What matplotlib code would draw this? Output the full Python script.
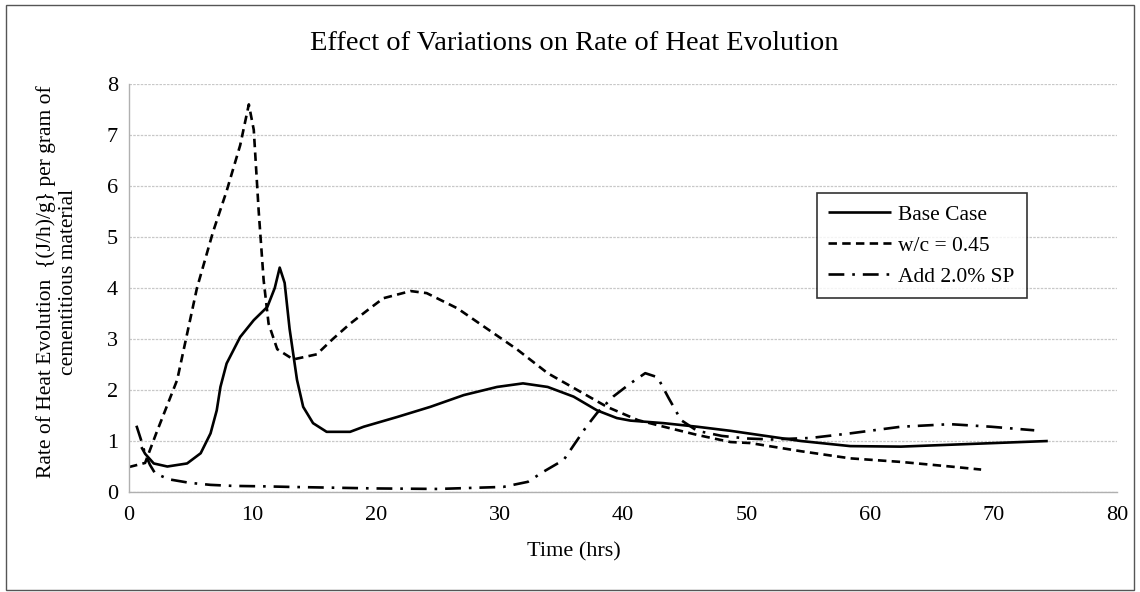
import matplotlib
matplotlib.use("Agg")
import matplotlib.pyplot as plt
from matplotlib.patches import Rectangle

plt.rcParams['font.family'] = ['Liberation Serif', 'DejaVu Serif']

# Base Case
base_x = [1.0, 1.3, 2.0, 3.1, 4.7, 5.8, 6.6, 7.1, 7.4, 7.9, 9.0, 10.1, 11.2, 11.8, 12.2, 12.6, 13.0, 13.6, 14.1, 14.9, 16.0, 17.9,
          19.0, 21.7, 24.4, 27.1, 29.8, 31.9, 33.9, 36.0, 37.9, 39.5, 40.6, 43.3, 46.0, 48.7, 54.4, 58.4, 62.5, 67.9, 74.4]
base_y = [0.88, 0.75, 0.56, 0.50, 0.56, 0.76, 1.15, 1.6, 2.06, 2.52, 3.04, 3.37, 3.63, 4.0, 4.4, 4.1, 3.2, 2.2, 1.67, 1.35, 1.18, 1.18,
          1.28, 1.47, 1.67, 1.9, 2.06, 2.13, 2.06, 1.87, 1.6, 1.45, 1.4, 1.35, 1.28, 1.2, 1.0, 0.9, 0.89, 0.94, 1.0]

# w/c = 0.45
wc_x = [0.0, 1.3, 2.2, 3.9, 5.5, 6.8, 7.9, 9.0, 9.7, 10.1, 10.5, 10.9, 11.3, 12.0, 13.3, 15.2, 16.5, 17.9, 19.5, 20.6, 22.8,
        24.1, 26.6, 29.0, 31.4, 33.9, 36.3, 38.7, 41.2, 43.3, 46.0, 48.7, 50.3, 54.4, 58.4, 62.5, 66.5, 69.0]
wc_y = [0.49, 0.57, 1.15, 2.2, 4.0, 5.1, 5.9, 6.8, 7.6, 7.1, 5.5, 4.15, 3.3, 2.8, 2.6, 2.7, 3.0, 3.3, 3.6, 3.8, 3.94,
        3.9, 3.6, 3.2, 2.8, 2.33, 2.0, 1.67, 1.41, 1.28, 1.12, 0.98, 0.96, 0.8, 0.66, 0.59, 0.5, 0.44]

# Add 2.0% SP
sp_x = [0.6, 1.0, 1.3, 1.7, 2.1, 3.2, 4.9, 6.6, 8.4, 11.2, 13.0, 20.0, 25.0, 30.3, 32.3, 33.5, 35.2, 37.0, 37.9, 39.2, 40.6,
        41.8, 42.8, 43.7, 44.7, 46.0, 48.0, 50.0, 52.0, 55.2, 58.4, 62.5, 66.5, 69.8, 73.3]
sp_y = [1.3, 1.0, 0.75, 0.53, 0.37, 0.25, 0.18, 0.14, 0.12, 0.11, 0.1, 0.07, 0.06, 0.1, 0.2, 0.39, 0.63, 1.27, 1.55, 1.87, 2.13,
        2.33, 2.25, 1.84, 1.41, 1.2, 1.1, 1.05, 1.03, 1.06, 1.15, 1.28, 1.33, 1.28, 1.21]

title = "Effect of Variations on Rate of Heat Evolution"
xlabel = "Time (hrs)"
ylabel = "Rate of Heat Evolution  {(J/h)/g} per gram of\ncementitious material"
labels = ["Base Case", "w/c = 0.45", "Add 2.0% SP"]

fig = plt.figure(figsize=(11.4, 5.92), dpi=100)
ax = fig.add_axes([0.1132, 0.1689, 0.8666, 0.6892])

lw = 1.9
ax.plot(base_x, base_y, color='black', lw=lw, solid_capstyle='butt', label=labels[0])
ax.plot(wc_x, wc_y, color='black', lw=lw, linestyle=(0, (3.2, 2.0)), label=labels[1])
ax.plot(sp_x, sp_y, color='black', lw=lw, linestyle=(0, (6, 3, 1, 3)), label=labels[2])

ax.set_xlim(0, 80)
ax.set_ylim(0, 8)
ax.set_xticks(range(0, 81, 10))
ax.set_yticks(range(0, 9))
ax.grid(axis='y', color='#c8c8c8', lw=0.9, linestyle=(0, (2, 1)))
ax.set_axisbelow(True)
for s in ['top', 'right']:
    ax.spines[s].set_visible(False)
for s in ['left', 'bottom']:
    ax.spines[s].set_color('#b0b0b0')
    ax.spines[s].set_linewidth(1.0)
ax.tick_params(axis='both', length=0, labelsize=16)
ax.tick_params(axis='x', pad=10)
ax.tick_params(axis='y', pad=8)

fig.text(574 / 1140, 1 - 552 / 592, xlabel, ha='center', va='center', fontsize=16)
fig.text(57 / 1140, 1 - 282 / 592, ylabel, ha='center', va='center', rotation=90, fontsize=15.5,
         linespacing=1.15, multialignment='center')
fig.text(574 / 1140, 1 - 44 / 592, title, ha='center', va='center', fontsize=20.5)

leg = ax.legend(loc='upper left', bbox_to_anchor=(0.696, 0.733), borderaxespad=0, fontsize=15.5, frameon=True,
                fancybox=False, edgecolor='black', handlelength=2.9, handletextpad=0.35, borderpad=0.55,
                labelspacing=0.5)
leg.get_frame().set_linewidth(1.2)

fig.patches.append(Rectangle((0.005, 0.004), 0.99, 0.988, transform=fig.transFigure, fill=False,
                             edgecolor='#555555', lw=1.0))

fig.savefig("out.png", dpi=100)
